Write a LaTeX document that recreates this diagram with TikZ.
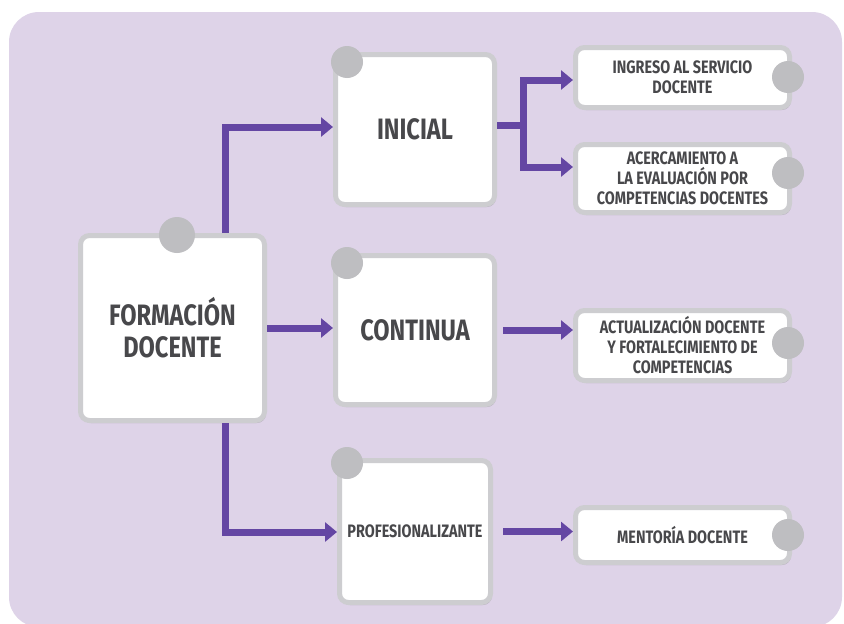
\documentclass[tikz,border=0pt]{standalone}
\usepackage{fontspec}
\setmainfont{Fira Sans}[FakeStretch=0.8]
\usetikzlibrary{arrows.meta,shadows}
\definecolor{bg}{HTML}{DED3E8}
\definecolor{arrowc}{HTML}{6446A3}
\definecolor{framec}{HTML}{CDCDD0}
\definecolor{dotc}{HTML}{BEBEC1}
\definecolor{txt}{HTML}{48484B}
\begin{document}
\begin{tikzpicture}[x=1pt,y=-1pt,
  card/.style={draw=framec, line width=5pt, fill=white, rounded corners=9pt,
    text=txt, align=center, inner sep=0pt,
    drop shadow={shadow xshift=1.5pt,shadow yshift=-2.5pt,opacity=0.25,fill=black!70}},
  bigtxt/.style={font=\fontsize{29.5}{32}\selectfont\bfseries},
  midtxt/.style={font=\fontsize{18}{20}\selectfont\bfseries},
  smalltxt/.style={font=\fontsize{18}{20}\selectfont\bfseries},
  dot/.style={circle, fill=dotc, inner sep=0pt, minimum size=#1},
  flow/.style={draw=arrowc, line width=7pt, -{Triangle[length=12pt,width=19pt]}},
  trunk/.style={draw=arrowc, line width=7pt}
]
\useasboundingbox (0,0) rectangle (844,624);
\fill[white] (0,0) rectangle (844,624);
\fill[bg, rounded corners=30pt] (9,12) rectangle (842,627);

% cards
\node[card, bigtxt, minimum width=184pt, minimum height=185pt] (fd) at (172.5,328) {FORMACIÓN\\DOCENTE};
\node[card, bigtxt, minimum width=159pt, minimum height=150pt] (ini) at (415,129.5) {INICIAL};
\node[card, bigtxt, minimum width=159pt, minimum height=149pt] (cont) at (415,330) {CONTINUA};
\node[card, midtxt, minimum width=151pt, minimum height=142pt] (prof) at (415,531.5) {PROFESIONALIZANTE};

\node[card, smalltxt, minimum width=214pt, minimum height=60pt] (ing) at (682.5,77.5) {INGRESO AL SERVICIO\\DOCENTE};
\node[card, smalltxt, minimum width=214pt, minimum height=68pt] (acer) at (682.5,178.5) {ACERCAMIENTO A\\LA EVALUACIÓN POR\\COMPETENCIAS DOCENTES};
\node[card, smalltxt, minimum width=214pt, minimum height=70pt] (act) at (682.5,345.5) {ACTUALIZACIÓN DOCENTE\\Y FORTALECIMIENTO DE\\COMPETENCIAS};
\node[card, smalltxt, minimum width=214pt, minimum height=55pt] (ment) at (682.5,535) {MENTORÍA DOCENTE};

% dots
\node[dot=36pt] (dfd) at (177,235) {};
\node[dot=32pt] (dini) at (347,62) {};
\node[dot=32pt] (dcont) at (347,263) {};
\node[dot=32pt] (dprof) at (347,463) {};
\node[dot=32pt] (ding) at (788,77) {};
\node[dot=32pt] (dacer) at (788,173) {};
\node[dot=32pt] (dact) at (788,343) {};
\node[dot=32pt] (dment) at (788,535) {};

% connectors
\coordinate (a1) at (225,127);
\coordinate (a3) at (225,532);
\coordinate (b) at (523,125);
\coordinate (b1) at (523,80);
\coordinate (b2) at (523,167);
\draw[flow] (fd.north -| a1) |- (ini.west |- a1);
\draw[flow] (fd.east) -- (fd.east -| cont.west);
\draw[flow] (fd.south -| a3) |- (prof.west |- a3);
\draw[trunk] (ini.east |- b) -- (b);
\draw[flow] (b) |- (ing.west |- b1);
\draw[flow] (b) |- (acer.west |- b2);
\draw[flow, shorten <=6pt] (cont.east) -- (cont.east -| act.west);
\draw[flow, shorten <=10pt] (prof.east) -- (prof.east -| ment.west);
\end{tikzpicture}
\end{document}
